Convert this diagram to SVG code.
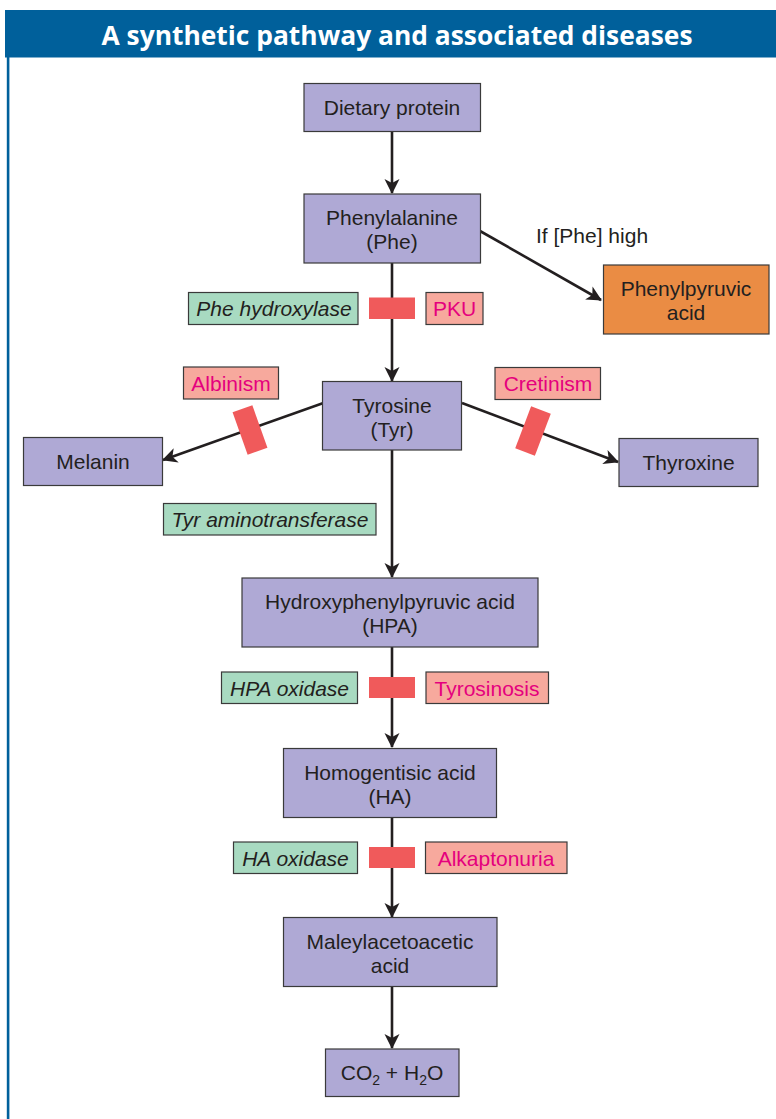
<svg xmlns="http://www.w3.org/2000/svg" width="776" height="1119" viewBox="0 0 776 1119">
<defs>
<style>
.node{fill:#afa9d5;stroke:#3a3a3a;stroke-width:1.2}
.prod{fill:#ea8c44;stroke:#3a3a3a;stroke-width:1.2}
.enz{fill:#a8dac1;stroke:#3a3a3a;stroke-width:1.2}
.dis{fill:#f7a99d;stroke:#3a3a3a;stroke-width:1.2}
.block{fill:#f05a5b}
.t{font-family:"Liberation Sans",Arial,sans-serif;font-size:21px;fill:#231f20;text-anchor:middle}
.ti{font-family:"Liberation Sans",Arial,sans-serif;font-size:21px;font-style:italic;fill:#231f20;text-anchor:middle}
.td{font-family:"Liberation Sans",Arial,sans-serif;font-size:21px;fill:#e5007e;text-anchor:middle}
.edge{stroke:#231f20;stroke-width:2.6;fill:none}
</style>
<marker id="arr" markerUnits="userSpaceOnUse" markerWidth="16" markerHeight="16" viewBox="0 -8 15 16" refX="14" refY="0" orient="auto">
<path d="M0,-7.5 L15,0 L0,7.5 L4,0 Z" fill="#231f20"/>
</marker>
</defs>
<rect x="0" y="0" width="776" height="1119" fill="#ffffff"/>
<g id="frame">
<rect x="5" y="10" width="771" height="47.5" fill="#00609b"/>
<rect x="6.8" y="56" width="2.6" height="1063" fill="#00609b"/>
<text x="397" y="45" font-family="'Open Sans','Liberation Sans',sans-serif" font-size="27" font-weight="bold" fill="#ffffff" text-anchor="middle" textLength="591" lengthAdjust="spacingAndGlyphs">A synthetic pathway and associated diseases</text>
</g>
<g id="connectors">
<line class="edge" x1="392" y1="132" x2="392" y2="193" marker-end="url(#arr)"/>
<line class="edge" x1="480" y1="231" x2="601" y2="300" marker-end="url(#arr)"/>
<line class="edge" x1="392" y1="263" x2="392" y2="381" marker-end="url(#arr)"/>
<line class="edge" x1="329" y1="401" x2="163" y2="460" marker-end="url(#arr)"/>
<line class="edge" x1="462" y1="403" x2="618" y2="462" marker-end="url(#arr)"/>
<line class="edge" x1="392" y1="450" x2="392" y2="577" marker-end="url(#arr)"/>
<line class="edge" x1="392" y1="647" x2="392" y2="747" marker-end="url(#arr)"/>
<line class="edge" x1="392" y1="817" x2="392" y2="917" marker-end="url(#arr)"/>
<line class="edge" x1="392" y1="987" x2="392" y2="1048" marker-end="url(#arr)"/>
<text x="536" y="243" font-family="'Liberation Sans',Arial,sans-serif" font-size="21" fill="#231f20">If [Phe] high</text>
</g>
<g id="blocks">
<rect class="block" x="369" y="297.5" width="46" height="21.5"/>
<rect class="block" x="369" y="677" width="46" height="21"/>
<rect class="block" x="369" y="847" width="46" height="21"/>
<rect class="block" x="-10.5" y="-22.5" width="21" height="45" transform="translate(250,430) rotate(-19.6)"/>
<rect class="block" x="-10.5" y="-22.5" width="21" height="45" transform="translate(533,431) rotate(20.7)"/>
</g>
<g id="dietary-protein">
<rect class="node" x="304" y="83.5" width="176.5" height="48"/>
<text class="t" x="392" y="115">Dietary protein</text>
</g>
<g id="phenylalanine">
<rect class="node" x="304" y="194" width="176.5" height="69"/>
<text class="t" x="392" y="225">Phenylalanine</text>
<text class="t" x="392" y="249">(Phe)</text>
</g>
<g id="phenylpyruvic-acid">
<rect class="prod" x="603.5" y="265" width="165.5" height="69"/>
<text class="t" x="686" y="296">Phenylpyruvic</text>
<text class="t" x="686" y="320">acid</text>
</g>
<g id="phe-hydroxylase">
<rect class="enz" x="188.5" y="292.5" width="169.5" height="32"/>
<text class="ti" x="274" y="316">Phe hydroxylase</text>
</g>
<g id="pku">
<rect class="dis" x="426" y="292.5" width="57" height="32"/>
<text class="td" x="454.5" y="316">PKU</text>
</g>
<g id="albinism">
<rect class="dis" x="183.5" y="367" width="95" height="32"/>
<text class="td" x="231" y="390.5">Albinism</text>
</g>
<g id="cretinism">
<rect class="dis" x="495" y="367.5" width="105.5" height="32"/>
<text class="td" x="548" y="391">Cretinism</text>
</g>
<g id="tyrosine">
<rect class="node" x="322.5" y="381.5" width="139" height="68.5"/>
<text class="t" x="392" y="412.5">Tyrosine</text>
<text class="t" x="392" y="436.5">(Tyr)</text>
</g>
<g id="melanin">
<rect class="node" x="23.5" y="437.5" width="139" height="48"/>
<text class="t" x="93" y="469">Melanin</text>
</g>
<g id="thyroxine">
<rect class="node" x="619" y="438.5" width="139" height="48"/>
<text class="t" x="688.5" y="470">Thyroxine</text>
</g>
<g id="tyr-aminotransferase">
<rect class="enz" x="163.5" y="503.5" width="212.5" height="31.5"/>
<text class="ti" x="270" y="527">Tyr aminotransferase</text>
</g>
<g id="hpa">
<rect class="node" x="242" y="578" width="296" height="69"/>
<text class="t" x="390" y="609">Hydroxyphenylpyruvic acid</text>
<text class="t" x="390" y="633">(HPA)</text>
</g>
<g id="hpa-oxidase">
<rect class="enz" x="221.5" y="672" width="136" height="31.5"/>
<text class="ti" x="289.5" y="695.5">HPA oxidase</text>
</g>
<g id="tyrosinosis">
<rect class="dis" x="426" y="672" width="122.5" height="31.5"/>
<text class="td" x="487" y="695.5">Tyrosinosis</text>
</g>
<g id="ha">
<rect class="node" x="283.5" y="748.5" width="213" height="69"/>
<text class="t" x="390" y="779.5">Homogentisic acid</text>
<text class="t" x="390" y="803.5">(HA)</text>
</g>
<g id="ha-oxidase">
<rect class="enz" x="233.5" y="842" width="124" height="31.5"/>
<text class="ti" x="295.5" y="865.5">HA oxidase</text>
</g>
<g id="alkaptonuria">
<rect class="dis" x="425.5" y="842" width="141.5" height="31.5"/>
<text class="td" x="496" y="865.5">Alkaptonuria</text>
</g>
<g id="maleylacetoacetic-acid">
<rect class="node" x="283.5" y="917.5" width="213.5" height="69"/>
<text class="t" x="390" y="948.5">Maleylacetoacetic</text>
<text class="t" x="390" y="972.5">acid</text>
</g>
<g id="co2-h2o">
<rect class="node" x="325.5" y="1049" width="133.5" height="47.5"/>
<text class="t" x="392" y="1080">CO<tspan font-size="14" dy="5">2</tspan><tspan dy="-5"> + H</tspan><tspan font-size="14" dy="5">2</tspan><tspan dy="-5">O</tspan></text>
</g>
</svg>
